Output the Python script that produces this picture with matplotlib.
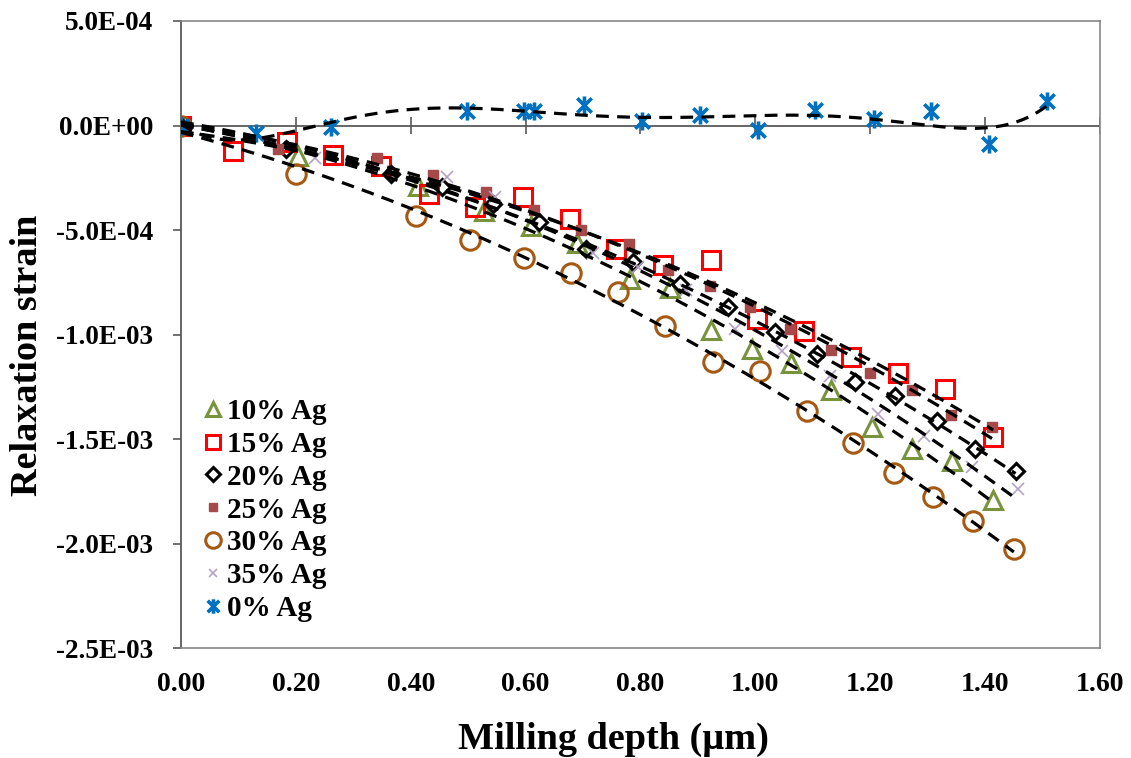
import numpy as np
import matplotlib
matplotlib.use("Agg")
import matplotlib.pyplot as plt
from matplotlib.path import Path
from matplotlib.ticker import FuncFormatter, MultipleLocator

plt.rcParams['font.family'] = ['Liberation Serif', 'DejaVu Serif']
plt.rcParams['font.weight'] = 'bold'

# data (milling depth in um, relaxation strain)
x10 = [0, 0.204, 0.413, 0.527, 0.610, 0.690, 0.781, 0.851, 0.923, 0.994, 1.062, 1.132, 1.203, 1.273, 1.343, 1.414]
y10 = [0, -1.44e-4, -2.87e-4, -4.10e-4, -4.79e-4, -5.60e-4, -7.34e-4, -7.77e-4, -9.78e-4, -1.068e-3, -1.137e-3,
       -1.265e-3, -1.444e-3, -1.547e-3, -1.603e-3, -1.791e-3]

x15 = [0, 0.090, 0.184, 0.265, 0.348, 0.431, 0.512, 0.595, 0.678, 0.758, 0.839, 0.923, 1.002, 1.085, 1.167,
       1.248, 1.331, 1.414]
y15 = [0, -1.20e-4, -8.0e-5, -1.39e-4, -1.96e-4, -3.30e-4, -3.90e-4, -3.43e-4, -4.47e-4, -5.90e-4, -6.65e-4,
       -6.43e-4, -9.25e-4, -9.84e-4, -1.109e-3, -1.185e-3, -1.260e-3, -1.488e-3]

x20 = [0, 0.182, 0.365, 0.455, 0.543, 0.624, 0.706, 0.787, 0.869, 0.953, 1.034, 1.107, 1.174, 1.243, 1.316,
       1.383, 1.453]
y20 = [0, -1.12e-4, -2.34e-4, -2.92e-4, -3.75e-4, -4.63e-4, -5.90e-4, -6.54e-4, -7.60e-4, -8.66e-4, -9.89e-4,
       -1.092e-3, -1.228e-3, -1.292e-3, -1.415e-3, -1.547e-3, -1.651e-3]

x25 = [0, 0.169, 0.342, 0.438, 0.531, 0.614, 0.697, 0.780, 0.848, 0.921, 0.991, 1.060, 1.131, 1.200, 1.272,
       1.341, 1.412]
y25 = [0, -1.12e-4, -1.56e-4, -2.39e-4, -3.19e-4, -4.03e-4, -5.00e-4, -5.69e-4, -6.90e-4, -7.70e-4, -8.69e-4,
       -9.73e-4, -1.075e-3, -1.185e-3, -1.265e-3, -1.384e-3, -1.440e-3]

x30 = [0, 0.201, 0.409, 0.504, 0.597, 0.679, 0.761, 0.843, 0.927, 1.008, 1.090, 1.170, 1.241, 1.309, 1.379, 1.450]
y30 = [0, -2.31e-4, -4.31e-4, -5.47e-4, -6.35e-4, -7.07e-4, -7.98e-4, -9.57e-4, -1.133e-3, -1.176e-3, -1.367e-3,
       -1.520e-3, -1.664e-3, -1.775e-3, -1.893e-3, -2.026e-3]

x35 = [0, 0.233, 0.464, 0.546, 0.717, 0.796, 0.880, 0.964, 1.047, 1.130, 1.213, 1.294, 1.378, 1.458]
y35 = [0, -1.55e-4, -2.47e-4, -3.43e-4, -6.11e-4, -6.78e-4, -7.86e-4, -9.73e-4, -1.077e-3, -1.196e-3, -1.380e-3,
       -1.483e-3, -1.632e-3, -1.738e-3]

x0 = [0, 0.131, 0.262, 0.498, 0.598, 0.614, 0.702, 0.802, 0.903, 1.004, 1.104, 1.206, 1.306, 1.407, 1.507]
y0 = [0, -3.7e-5, -8e-6, 6.9e-5, 6.9e-5, 6.9e-5, 1.0e-4, 2.2e-5, 4.8e-5, -2.1e-5, 7.5e-5, 3.2e-5, 6.9e-5,
      -8.8e-5, 1.16e-4]

labels = ['10% Ag', '15% Ag', '20% Ag', '25% Ag', '30% Ag', '35% Ag', '0% Ag']

# asterisk marker: x plus a vertical bar
star = Path([(-1, -1), (1, 1), (-1, 1), (1, -1), (0, -1.25), (0, 1.25)],
            [Path.MOVETO, Path.LINETO, Path.MOVETO, Path.LINETO, Path.MOVETO, Path.LINETO])

styles = [
    dict(marker='^', ms=13, mfc='none', mec='#77933C', mew=2.2),
    dict(marker='s', ms=13, mfc='none', mec='#FF0000', mew=2.2),
    dict(marker='D', ms=8.5, mfc='none', mec='black', mew=2.2),
    dict(marker='s', ms=6.5, mfc='#A5494A', mec='#A5494A', mew=1),
    dict(marker='o', ms=14, mfc='none', mec='#A55A14', mew=2.2),
    dict(marker='x', ms=8, mfc='none', mec='#B3A2C7', mew=1.2),
    dict(marker=star, ms=13, mfc='none', mec='#0070C0', mew=2.6),
]

series = [(x10, y10), (x15, y15), (x20, y20), (x25, y25), (x30, y30), (x35, y35), (x0, y0)]
degrees = [2, 2, 2, 2, 2, 2, 6]

fig = plt.figure(figsize=(11.31, 7.58), dpi=100)
ax = fig.add_axes([0.160, 0.145, 0.8126, 0.8273])

for (xs, ys), st, lab in zip(series, styles, labels):
    ax.plot(xs, ys, ls='none', label=lab, zorder=3, **st)

# trendlines
for (xs, ys), deg in zip(series, degrees):
    c = np.polyfit(xs, ys, deg)
    xx = np.linspace(0, max(xs), 200)
    ax.plot(xx, np.polyval(c, xx), color='black', ls=(0, (4, 2.6)), lw=2.3, zorder=4)

ax.set_xlim(0, 1.6)
ax.set_ylim(-2.5e-3, 5e-4)
ax.xaxis.set_major_locator(MultipleLocator(0.2))
ax.yaxis.set_major_locator(MultipleLocator(5e-4))
ax.xaxis.set_major_formatter(FuncFormatter(lambda v, p: f'{v:.2f}'))
ax.yaxis.set_major_formatter(FuncFormatter(lambda v, p: f'{v:.1E}'))

for s in ['top', 'right', 'bottom']:
    ax.spines[s].set_color('#868686')
    ax.spines[s].set_linewidth(1.2)
ax.spines['left'].set_color('#595959')
ax.spines['left'].set_linewidth(1.3)

# zero axis with its tick marks
ax.axhline(0, color='#595959', lw=1.3, zorder=2)
ax.vlines(ax.get_xticks()[1:-1], -4e-5, 4e-5, color='#595959', lw=1.2, zorder=2)

ax.tick_params(axis='x', length=0, pad=17, labelsize=20)
ax.tick_params(axis='y', direction='out', length=6, width=1.2, color='#595959', pad=14, labelsize=19.5)
for t in ax.get_xticklabels() + ax.get_yticklabels():
    t.set_fontweight('bold')

ax.set_xlabel('Milling depth (µm)', fontsize=27.5, fontweight='bold')
ax.set_ylabel('Relaxation strain', fontsize=27.5, fontweight='bold')
ax.xaxis.set_label_coords(0.4706, -0.118)
ax.yaxis.set_label_coords(-0.148, 0.467)

leg = ax.legend(loc='lower left', bbox_to_anchor=(0.0035, 0.009), frameon=False, fontsize=21,
                handlelength=0.6, handletextpad=0.16, labelspacing=0.2, borderaxespad=0.3,
                markerscale=0.8)
for t in leg.get_texts():
    t.set_fontweight('bold')

fig.savefig('out.png', dpi=100)
